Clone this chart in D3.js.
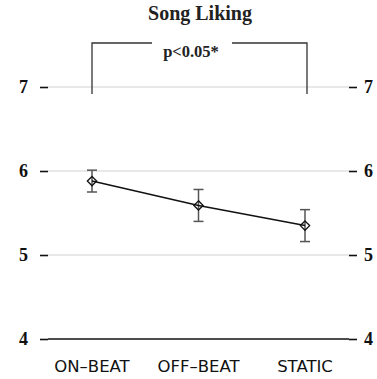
<!DOCTYPE html>
<html>
<head>
<meta charset="utf-8">
<script src="https://cdn.jsdelivr.net/npm/d3@7"></script>
<style>
  body { margin: 0; background: #fff; }
</style>
</head>
<body>
<div id="chart"></div>
<script>
// Data
const categories = ["ON\u2013BEAT", "OFF\u2013BEAT", "STATIC"];
const means = [5.88, 5.59, 5.35];
const upper = [6.01, 5.78, 5.54];
const lower = [5.75, 5.40, 5.16];
const yTicks = [4, 5, 6, 7];

const W = 377, H = 379;

const svg = d3.select("#chart").append("svg")
    .attr("width", W)
    .attr("height", H);

// Scales
const x = d3.scalePoint()
    .domain(categories)
    .range([92, 305]);

const y = d3.scaleLinear()
    .domain([4, 7])
    .range([339, 87]);

const plotL = 48, plotR = 349;

// Grid lines
svg.append("g")
    .selectAll("line")
    .data(yTicks.filter(d => d !== 4))
    .join("line")
    .attr("x1", plotL).attr("x2", plotR)
    .attr("y1", d => y(d)).attr("y2", d => y(d))
    .attr("stroke", "#e0e0e0")
    .attr("stroke-width", 1.5);

// Left and right axes
const leftAxis = svg.append("g")
    .attr("transform", `translate(${plotL},0)`)
    .call(d3.axisLeft(y).tickValues(yTicks).tickSize(8).tickPadding(12).tickFormat(d3.format("d")));
const rightAxis = svg.append("g")
    .attr("transform", `translate(${plotR},0)`)
    .call(d3.axisRight(y).tickValues(yTicks).tickSize(8).tickPadding(7).tickFormat(d3.format("d")));

[leftAxis, rightAxis].forEach(g => {
    g.select(".domain").remove();
    g.selectAll(".tick line").attr("stroke", "#111").attr("stroke-width", 1.6);
    g.selectAll(".tick text")
        .attr("font-family", "'Liberation Serif', serif")
        .attr("font-weight", "bold")
        .attr("font-size", 18)
        .attr("fill", "#111");
});

// Bottom baseline
svg.append("line")
    .attr("x1", plotL).attr("x2", plotR)
    .attr("y1", y(4)).attr("y2", y(4))
    .attr("stroke", "#111")
    .attr("stroke-width", 1.6);

// Category labels
svg.append("g")
    .selectAll("text")
    .data(categories)
    .join("text")
    .attr("x", d => x(d))
    .attr("y", 372)
    .attr("text-anchor", "middle")
    .attr("font-family", "'DejaVu Sans', sans-serif")
    .attr("font-size", 16.5)
    .attr("fill", "#111")
    .text(d => d);

// Title
svg.append("text")
    .attr("x", 200).attr("y", 20)
    .attr("text-anchor", "middle")
    .attr("font-family", "'Liberation Serif', serif")
    .attr("font-weight", "bold")
    .attr("font-size", 20)
    .attr("fill", "#222")
    .text("Song Liking");

// Significance bracket
const bx1 = x(categories[0]), bx2 = x(categories[2]) + 2;
const by = 43, byBot = 94;
const bracket = svg.append("g").attr("stroke", "#333").attr("stroke-width", 1.3).attr("fill", "none");
bracket.append("path").attr("d", `M${bx1},${byBot}V${by}H152`);
bracket.append("path").attr("d", `M232,${by}H${bx2}V${byBot}`);
svg.append("text")
    .attr("x", 191).attr("y", 57)
    .attr("text-anchor", "middle")
    .attr("font-family", "'Liberation Serif', serif")
    .attr("font-weight", "bold")
    .attr("font-size", 16.5)
    .attr("fill", "#222")
    .text("p<0.05*");

// Error bars
const eb = svg.append("g").attr("stroke", "#555").attr("stroke-width", 1.5);
categories.forEach((c, i) => {
    const cx = x(c);
    eb.append("line").attr("x1", cx).attr("x2", cx).attr("y1", y(upper[i])).attr("y2", y(lower[i]));
    eb.append("line").attr("x1", cx - 5).attr("x2", cx + 5).attr("y1", y(upper[i])).attr("y2", y(upper[i]));
    eb.append("line").attr("x1", cx - 5).attr("x2", cx + 5).attr("y1", y(lower[i])).attr("y2", y(lower[i]));
});

// Mean line
svg.append("path")
    .datum(means)
    .attr("fill", "none")
    .attr("stroke", "#111")
    .attr("stroke-width", 1.5)
    .attr("d", d3.line().x((d, i) => x(categories[i])).y(d => y(d)));

// Diamond markers
const diamond = d3.symbol().type(d3.symbolDiamond2).size(55);
svg.append("g")
    .selectAll("path")
    .data(means)
    .join("path")
    .attr("transform", (d, i) => `translate(${x(categories[i])},${y(d)})`)
    .attr("d", diamond)
    .attr("fill", "none")
    .attr("stroke", "#111")
    .attr("stroke-width", 1.3);
</script>
</body>
</html>
